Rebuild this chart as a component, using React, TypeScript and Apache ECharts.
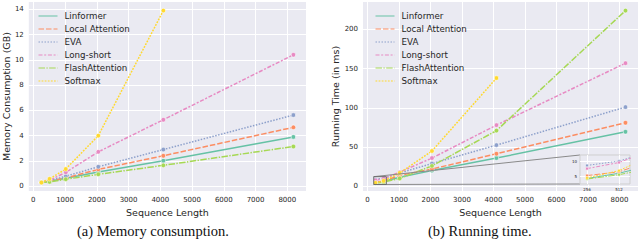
import { useEffect, useRef } from "react";
import * as echarts from "echarts";

const seqLen = [256, 512, 1024, 2048, 4096, 8192];
const seriesNames = ["Linformer", "Local Attention", "EVA", "Long-short", "FlashAttention", "Softmax"];
const colors = ["#66c2a5", "#fc8d62", "#8da0cb", "#e78ac3", "#a6d854", "#ffd92f"];
const dashes: (number[] | "solid")[] = ["solid", [5.5, 2], [1.5, 1.5], [4, 1.7, 2, 1.7], [6.5, 1.4, 1.4, 1.4], [1.8, 1.3]];

// Memory consumption (GB)
const memLinformer = [0.29, 0.4, 0.63, 1.12, 2.02, 3.9];
const memLocal = [0.29, 0.42, 0.65, 1.33, 2.41, 4.66];
const memEVA = [0.29, 0.44, 0.79, 1.54, 2.9, 5.63];
const memLongShort = [0.29, 0.46, 1.1, 2.72, 5.26, 10.4];
const memFlash = [0.29, 0.34, 0.55, 0.94, 1.65, 3.14];
const memSoftmax = [0.29, 0.58, 1.36, 4.0, 13.9];

// Running time (ms)
const timeLinformer = [4.2, 6.0, 11.5, 20, 36, 69.5];
const timeLocal = [5.2, 6.5, 14, 22, 41.5, 81];
const timeEVA = [8.7, 10.2, 17, 29, 52.5, 101];
const timeLongShort = [7.6, 9.7, 18, 36, 78, 157];
const timeFlash = [4.0, 5.5, 10, 26, 71, 224];
const timeSoftmax = [4.4, 6.9, 17, 45, 138];

const memData = [memLinformer, memLocal, memEVA, memLongShort, memFlash, memSoftmax];
const timeData = [timeLinformer, timeLocal, timeEVA, timeLongShort, timeFlash, timeSoftmax];

const xTicks = [0, 1000, 2000, 3000, 4000, 5000, 6000, 7000, 8000];
const memTicks = [0, 2, 4, 6, 8, 10, 12, 14];
const timeTicks = [0, 50, 100, 150, 200];
const insetXTicks = [256, 512];
const insetYTicks = [5, 10];

const xRange = [-141, 8589];
const memRange = [-0.38, 14.58];
const timeRange = [-6, 235];
const insetXRange = [200, 600];
const insetYRange = [2.3, 12.3];

const FONT = "DejaVu Sans";
const TXT = "#262626";
const BG = "#EAEAF2";

function valueAxis(range: number[], ticks: number[], grid: number, fontSize: number, margin: number, extra: any = {}) {
  return {
    type: "value",
    gridIndex: grid,
    min: range[0],
    max: range[1],
    axisLine: { show: false },
    axisTick: { show: false, customValues: ticks },
    axisLabel: {
      customValues: ticks,
      fontSize,
      color: TXT,
      fontFamily: FONT,
      margin,
      formatter: (v: number) => String(v),
    },
    splitLine: { show: true, lineStyle: { color: "#ffffff", width: 1 } },
    ...extra,
  };
}

export default function App() {
  const ref = useRef<HTMLDivElement>(null);
  useEffect(() => {
    if (!ref.current) return;
    const chart = echarts.init(ref.current, undefined, { renderer: "svg" });

    const series: any[] = [];
    const addSeries = (data: number[][], axis: number, symbolSize: number, width: number, zBase: number) => {
      data.forEach((vals, i) => {
        series.push({
          name: seriesNames[i],
          type: "line",
          xAxisIndex: axis,
          yAxisIndex: axis,
          data: vals.map((v, j) => [seqLen[j], v]),
          symbol: "circle",
          symbolSize,
          showSymbol: true,
          itemStyle: { color: colors[i], borderColor: "#ffffff", borderWidth: 0.5 },
          lineStyle: { color: colors[i], width, type: dashes[i] },
          clip: true,
          z: zBase + i,
        });
      });
    };
    addSeries(memData, 0, 4.5, 1.5, 2);
    addSeries(timeData, 1, 4.5, 1.5, 2);
    addSeries(timeData, 2, 3, 1, 40);

    // zoom rectangle on the running-time axes
    series.push({
      name: "inset-box",
      type: "line",
      xAxisIndex: 1,
      yAxisIndex: 1,
      data: [
        [insetXRange[0], insetYRange[0]],
        [insetXRange[1], insetYRange[0]],
        [insetXRange[1], insetYRange[1]],
        [insetXRange[0], insetYRange[1]],
        [insetXRange[0], insetYRange[0]],
      ],
      symbol: "none",
      lineStyle: { color: "#6e6e6e", width: 1 },
      silent: true,
      z: 20,
    });

    const legendBase = {
      data: seriesNames,
      orient: "vertical",
      top: 6,
      itemWidth: 19,
      itemHeight: 10,
      itemGap: 3,
      textStyle: { fontSize: 8.7, color: TXT, fontFamily: FONT, padding: [0, 0, 0, 2] },
      itemStyle: { opacity: 0 },
      lineStyle: { width: 1 },
      selectedMode: false,
    };

    const insetLabel = (ticks: number[]) => ({
      customValues: ticks,
      fontSize: 4,
      color: TXT,
      fontFamily: FONT,
      margin: 3,
      formatter: (v: number) => String(v),
    });

    chart.setOption({
      animation: false,
      backgroundColor: "#ffffff",
      textStyle: { fontFamily: FONT },
      grid: [
        { left: 26, top: 2, width: 280, height: 189, show: true, backgroundColor: BG, borderWidth: 0 },
        { left: 363, top: 2, width: 275, height: 189, show: true, backgroundColor: BG, borderWidth: 0 },
        { left: 580, top: 155, width: 50, height: 29, show: true, backgroundColor: BG, borderColor: "#cfcfcf", borderWidth: 1, z: 30 },
      ],
      xAxis: [
        valueAxis(xRange, xTicks, 0, 7, 5, { name: "Sequence Length", nameLocation: "middle", nameGap: 13, nameTextStyle: { fontSize: 9.5, color: TXT, fontFamily: FONT } }),
        valueAxis(xRange, xTicks, 1, 7, 5, { name: "Sequence Length", nameLocation: "middle", nameGap: 13, nameTextStyle: { fontSize: 9.5, color: TXT, fontFamily: FONT } }),
        valueAxis(insetXRange, insetXTicks, 2, 4, 3, { axisLabel: insetLabel(insetXTicks), z: 35 }),
      ],
      yAxis: [
        valueAxis(memRange, memTicks, 0, 7, 5, { name: "Memory Consumption (GB)", nameLocation: "middle", nameGap: 15, nameTextStyle: { fontSize: 9.5, color: TXT, fontFamily: FONT } }),
        valueAxis(timeRange, timeTicks, 1, 7, 5, { name: "Running Time (in ms)", nameLocation: "middle", nameGap: 21, nameTextStyle: { fontSize: 9.5, color: TXT, fontFamily: FONT } }),
        valueAxis(insetYRange, insetYTicks, 2, 4, 3, { axisLabel: insetLabel(insetYTicks), z: 35 }),
      ],
      legend: [
        { ...legendBase, left: 33 },
        { ...legendBase, left: 370 },
      ],
      series,
    });

    const boxTL = chart.convertToPixel({ xAxisIndex: 1, yAxisIndex: 1 } as any, [insetXRange[0], insetYRange[1]]) as number[];
    const boxBL = chart.convertToPixel({ xAxisIndex: 1, yAxisIndex: 1 } as any, [insetXRange[0], insetYRange[0]]) as number[];
    const insTL = chart.convertToPixel({ xAxisIndex: 2, yAxisIndex: 2 } as any, [insetXRange[0], insetYRange[1]]) as number[];
    const insBL = chart.convertToPixel({ xAxisIndex: 2, yAxisIndex: 2 } as any, [insetXRange[0], insetYRange[0]]) as number[];

    chart.setOption({
      graphic: [
        {
          type: "line",
          id: "c1",
          z: 15,
          silent: true,
          shape: { x1: boxTL[0], y1: boxTL[1], x2: insTL[0], y2: insTL[1] },
          style: { stroke: "#8a8a8a", lineWidth: 1 },
        },
        {
          type: "line",
          id: "c2",
          z: 15,
          silent: true,
          shape: { x1: boxBL[0], y1: boxBL[1], x2: insBL[0], y2: insBL[1] },
          style: { stroke: "#8a8a8a", lineWidth: 1 },
        },
        {
          type: "text",
          id: "capA",
          left: 153 - 76,
          top: 223,
          style: { text: "(a) Memory consumption.", fontSize: 14.5, fontFamily: "Liberation Serif", fill: "#111" },
        },
        {
          type: "text",
          id: "capB",
          left: 485 - 57,
          top: 223,
          style: { text: "(b) Running time.", fontSize: 14.5, fontFamily: "Liberation Serif", fill: "#111" },
        },
      ],
    });

    return () => chart.dispose();
  }, []);
  return <div ref={ref} style={{ position: "fixed", left: 0, top: 0, width: 640, height: 240 }} />;
}
